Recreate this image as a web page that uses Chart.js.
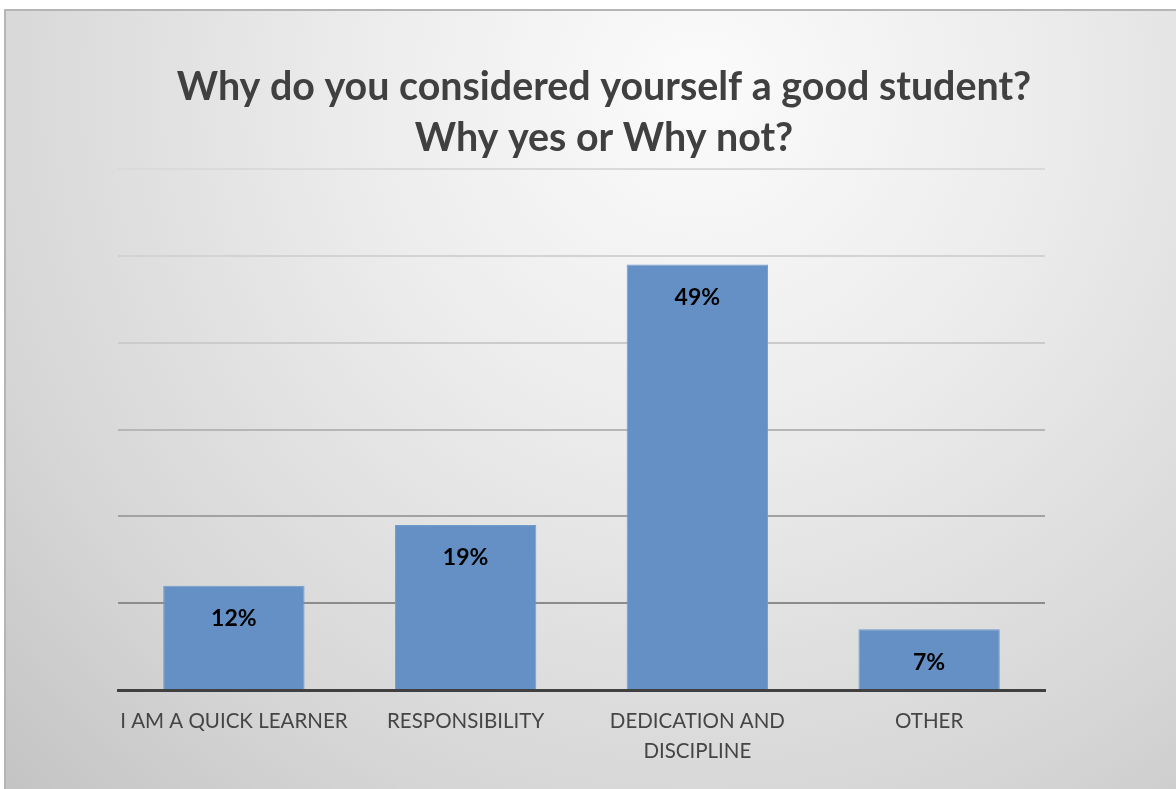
<!DOCTYPE html>
<html>
<head>
<meta charset="utf-8">
<script src="https://cdn.jsdelivr.net/npm/chart.js@4/dist/chart.umd.min.js"></script>
<style>
    html, body { margin: 0; padding: 0; background: #fff; }
    canvas { display: block; }
</style>
</head>
<body>
<canvas id="chart" width="1176" height="789"></canvas>
<script>
const categories = ['I AM A QUICK LEARNER', 'RESPONSIBILITY', 'DEDICATION AND DISCIPLINE', 'OTHER'];
const percentages = [12, 19, 49, 7];
const yTicks = [0, 10, 20, 30, 40, 50, 60];
const titleLines = ['Why do you considered yourself a good student?', 'Why yes or Why not?'];

// grid lines fade out towards the top
const gridShades = ['#404040', '#8c8c8c', '#a2a2a2', '#b6b6b6', '#cbcbcb', '#d3d3d3', '#dadada'];

const FONT = 'Lato, "Open Sans", sans-serif';

// wrap long category names onto two lines
const wrapLabel = (text, max) => {
    if (text.length <= max) return text;
    const words = text.split(' ');
    const lines = [];
    let line = '';
    words.forEach((w) => {
        if ((line + ' ' + w).trim().length > max) {
            lines.push(line.trim());
            line = w;
        } else {
            line = (line + ' ' + w).trim();
        }
    });
    lines.push(line);
    return lines;
};

// white margin, framed panel with a soft radial shading
const panelBackground = {
    id: 'panelBackground',
    beforeDraw: (chart) => {
        const {ctx, width, height} = chart;
        ctx.save();
        ctx.fillStyle = '#ffffff';
        ctx.fillRect(0, 0, width, height);
        const g = ctx.createRadialGradient(700, 90, 0, 700, 90, 980);
        g.addColorStop(0, '#fbfbfb');
        g.addColorStop(0.35, '#ececec');
        g.addColorStop(0.75, '#d6d6d6');
        g.addColorStop(1, '#c4c4c4');
        ctx.fillStyle = g;
        ctx.fillRect(5, 10, width - 5, height - 10);
        ctx.strokeStyle = '#b5b5b5';
        ctx.lineWidth = 2;
        ctx.strokeRect(5, 10, width - 4, height - 9);
        ctx.restore();
    }
};

// two-line heading, centred on the panel rather than the plot
const panelTitle = {
    id: 'panelTitle',
    afterDraw: (chart) => {
        const {ctx} = chart;
        ctx.save();
        ctx.font = 'bold 39.4px ' + FONT;
        ctx.fillStyle = '#404040';
        ctx.textAlign = 'center';
        ctx.textBaseline = 'alphabetic';
        titleLines.forEach((line, i) => {
            ctx.fillText(line, 604, 100 + i * 51);
        });
        ctx.restore();
    }
};

// percentage labels inside the top of each bar
const barValueLabels = {
    id: 'barValueLabels',
    afterDatasetsDraw: (chart) => {
        const {ctx} = chart;
        const meta = chart.getDatasetMeta(0);
        ctx.save();
        ctx.font = 'bold 23px ' + FONT;
        ctx.fillStyle = '#000000';
        ctx.textAlign = 'center';
        ctx.textBaseline = 'middle';
        meta.data.forEach((bar, i) => {
            ctx.fillText(percentages[i] + '%', bar.x, bar.y + 33);
        });
        ctx.restore();
    }
};

Chart.register(panelBackground, panelTitle, barValueLabels);

new Chart(document.getElementById('chart'), {
    type: 'bar',
    data: {
        labels: categories,
        datasets: [{
            label: '',
            data: percentages,
            backgroundColor: '#6490c5',
            borderColor: '#729bcd',
            borderWidth: 1,
            categoryPercentage: 1,
            barPercentage: 0.61
        }]
    },
    options: {
        responsive: false,
        animation: false,
        layout: {
            padding: {top: 169, left: 118, right: 131, bottom: 0}
        },
        plugins: {
            legend: {display: false},
            tooltip: {enabled: false},
            title: {display: false}
        },
        scales: {
            x: {
                grid: {display: false},
                border: {color: '#404040', width: 3},
                ticks: {
                    color: '#454545',
                    padding: 9,
                    maxRotation: 0,
                    autoSkip: false,
                    font: {family: FONT, size: 20.5, lineHeight: 1.45},
                    callback: (value, index) => wrapLabel(categories[index], 20)
                },
                afterFit: (scale) => {
                    scale.height = 99;
                }
            },
            y: {
                min: yTicks[0],
                max: yTicks[yTicks.length - 1],
                border: {display: false},
                grid: {
                    drawTicks: false,
                    lineWidth: 2,
                    color: (ctx) => gridShades[yTicks.indexOf(ctx.tick.value)] || '#cccccc'
                },
                ticks: {display: false, stepSize: 10},
                afterFit: (scale) => {
                    scale.width = 0;
                }
            }
        }
    }
});
</script>
</body>
</html>
